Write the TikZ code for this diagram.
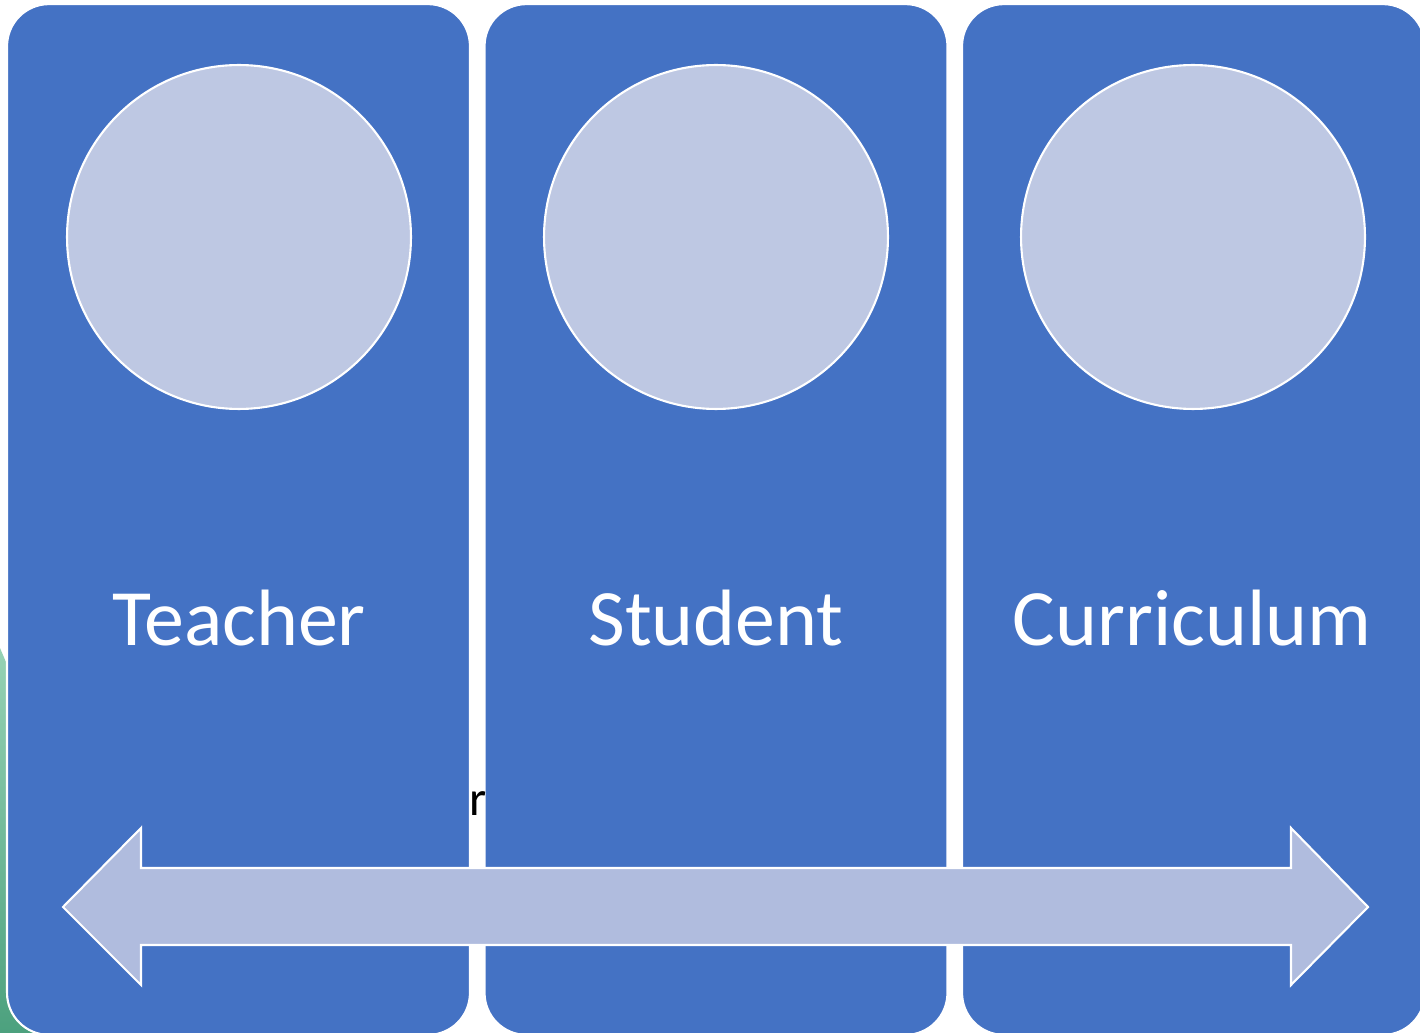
\documentclass[tikz,border=0pt]{standalone}
\usepackage{fontspec}
\setmainfont{Carlito}
\usepackage{xcolor}
\usetikzlibrary{positioning}

\definecolor{boxblue}{RGB}{68,114,196}
\definecolor{ringfill}{RGB}{190,200,227}
\definecolor{arrowfill}{RGB}{176,188,222}
\definecolor{leafhi}{RGB}{150,210,180}
\definecolor{leaflo}{RGB}{75,160,125}

\tikzset{
    column/.style={rectangle, rounded corners=0.84cm, draw=white, line width=1.2pt,
        fill=boxblue, minimum width=9.26cm, minimum height=20.62cm, inner sep=0pt},
    disc/.style={circle, draw=white, line width=1.2pt, fill=ringfill,
        minimum size=6.88cm, inner sep=0pt},
    heading/.style={text=white, anchor=base, inner sep=0pt,
        font=\fontsize{45.5}{54}\selectfont},
}

\begin{document}
\begin{tikzpicture}[x=0.02cm, y=-0.02cm]
    \useasboundingbox (0,0) rectangle (1420,1033);
    \clip (0,0) rectangle (1420,1033);
    \fill[white] (0,0) rectangle (1420,1033);
    % green strip peeking in on the left
    \shade[top color=leafhi, bottom color=leaflo] (0,648) -- (12,676) -- (12,990) -- (60,1040) -- (0,1040) -- cycle;

    \node[column] (tcol) at (238.5,519.5) {};
    \node[column] (scol) at (716,519.5) {};
    \node[column] (ccol) at (1193.5,519.5) {};

    \node[disc] (tdisc) at (239,237) {};
    \node[disc] (sdisc) at (716,237) {};
    \node[disc] (cdisc) at (1193,237) {};

    \node[heading] (teacher) at (239,645) {Teacher};
    \node[heading] (student) at (716,645) {Student};
    \node[heading] (curriculum) at (1192,645) {Curriculum};

    \node[anchor=base west, inner sep=0pt, font=\fontsize{28}{34}\selectfont] (rest) at (469,815) {r};

    % two-way arrow across the columns
    \draw[white, line width=1.2pt, fill=arrowfill, line join=miter]
        (63,907) -- (141,828) -- (141,868) -- (1291,868) -- (1291,828) -- (1368,907)
        -- (1291,985) -- (1291,945) -- (141,945) -- (141,985) -- cycle;
\end{tikzpicture}
\end{document}
